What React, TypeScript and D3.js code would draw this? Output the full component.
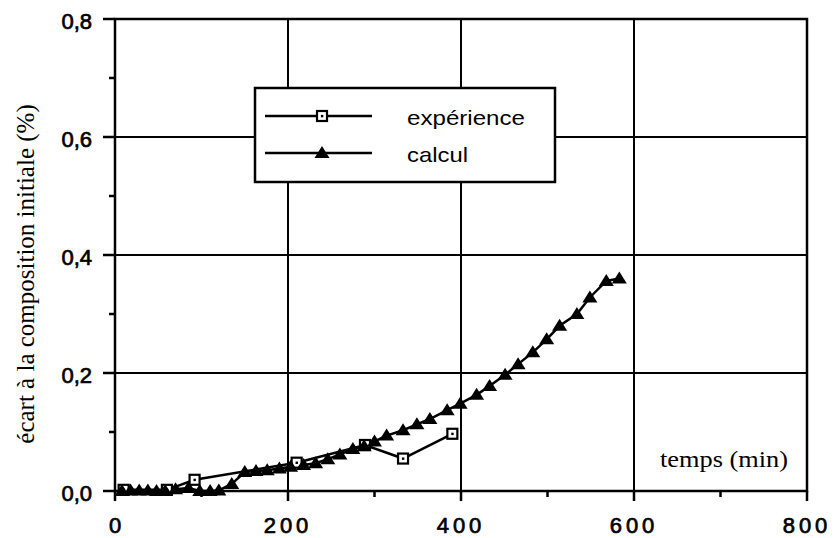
import React from 'react';
import * as d3 from 'd3';

const xTicks = [0, 200, 400, 600, 800];
const xTickLabels = ['0', '200', '400', '600', '800'];
const xMinorTicks = [100, 300, 500, 700];
const yTicks = [0, 0.2, 0.4, 0.6, 0.8];
const yTickLabels = ['0,0', '0,2', '0,4', '0,6', '0,8'];
const yMinorTicks = [0.1, 0.3, 0.5, 0.7];

const expTime = [10, 60, 92, 210, 289, 333, 390];
const expValue = [0.002, 0.002, 0.019, 0.048, 0.078, 0.055, 0.097];

const calcTime = [8, 18, 28, 38, 48, 58, 70, 85, 98, 110, 120, 135, 150, 163, 176, 190, 203, 218, 232, 246, 260, 275, 288, 300, 314, 333, 349, 364, 384, 399, 418, 433, 451, 466, 483, 499, 514, 534, 549, 568, 583];
const calcValue = [0, 0.001, 0.001, 0.001, 0, 0, 0.003, 0.005, 0, 0, 0.001, 0.012, 0.032, 0.034, 0.035, 0.038, 0.041, 0.044, 0.047, 0.054, 0.062, 0.071, 0.076, 0.084, 0.094, 0.103, 0.113, 0.122, 0.137, 0.148, 0.163, 0.178, 0.197, 0.215, 0.235, 0.257, 0.280, 0.300, 0.328, 0.356, 0.360];

const seriesNames = ['expérience', 'calcul'];
const xTitle = 'temps (min)';
const yTitle = 'écart à la composition initiale (%)';

const W = 835;
const H = 538;
const left = 115, right = 807, top = 19, bottom = 491;

const triPath = 'M0,-7L7.5,5L-7.5,5Z';

function Square({ x, y }: { x: number; y: number }) {
  return (
    <g transform={`translate(${x},${y})`}>
      <rect x={-5} y={-5} width={10} height={10} fill="#fff" stroke="#000" strokeWidth={2.2} />
      <rect x={-1.1} y={-1.1} width={2.4} height={2.4} fill="#000" />
    </g>
  );
}

export default function App() {
  const x = d3.scaleLinear().domain([0, 800]).range([left, right]);
  const y = d3.scaleLinear().domain([0, 0.8]).range([bottom, top]);

  const expData = expTime.map((t, i) => [t, expValue[i]] as [number, number]);
  const calcData = calcTime.map((t, i) => [t, calcValue[i]] as [number, number]);
  const line = d3.line<[number, number]>().x(d => x(d[0])).y(d => y(d[1]));

  const sans = 'Liberation Sans, Arial, sans-serif';
  const serif = "'Times New Roman', 'Liberation Serif', serif";

  return (
    <svg width={W} height={H} style={{ position: 'absolute', left: 0, top: 0, background: '#fff' }}>
      <rect x={0} y={0} width={W} height={H} fill="#fff" />
      {xTicks.slice(1, -1).map(t => (
        <line key={'gx' + t} x1={x(t)} x2={x(t)} y1={top} y2={bottom} stroke="#000" strokeWidth={2} />
      ))}
      {yTicks.slice(1, -1).map(t => (
        <line key={'gy' + t} x1={left} x2={right} y1={y(t)} y2={y(t)} stroke="#000" strokeWidth={2} />
      ))}
      <rect x={left} y={top} width={right - left} height={bottom - top} fill="none" stroke="#000" strokeWidth={2.5} />
      {xTicks.map(t => (
        <line key={'tx' + t} x1={x(t)} x2={x(t)} y1={bottom} y2={bottom + 10} stroke="#000" strokeWidth={2.5} />
      ))}
      {xMinorTicks.map(t => (
        <line key={'mx' + t} x1={x(t)} x2={x(t)} y1={bottom} y2={bottom + 6} stroke="#000" strokeWidth={2.5} />
      ))}
      {yTicks.map(t => (
        <line key={'ty' + t} x1={left - 12} x2={left} y1={y(t)} y2={y(t)} stroke="#000" strokeWidth={2.5} />
      ))}
      {yMinorTicks.map(t => (
        <line key={'my' + t} x1={left - 6} x2={left} y1={y(t)} y2={y(t)} stroke="#000" strokeWidth={2.5} />
      ))}
      {xTicks.map((t, i) => (
        <text key={'lx' + t} x={x(t)} y={533} textAnchor="middle" fontFamily={sans} fontSize={22}
          letterSpacing={t === 0 ? 0 : 4} stroke="#000" strokeWidth={0.7} fill="#000">
          {xTickLabels[i]}
        </text>
      ))}
      {yTicks.map((t, i) => (
        <text key={'ly' + t} x={92} y={y(t) + 10} textAnchor="end" fontFamily={sans} fontSize={22}
          stroke="#000" strokeWidth={0.7} fill="#000">
          {yTickLabels[i]}
        </text>
      ))}
      <path d={line(calcData) || ''} fill="none" stroke="#000" strokeWidth={2.5} />
      <path d={line(expData) || ''} fill="none" stroke="#000" strokeWidth={2.5} />
      {expData.map((d, i) => (
        <Square key={'e' + i} x={x(d[0])} y={y(d[1])} />
      ))}
      {calcData.map((d, i) => (
        <path key={'c' + i} d={triPath} transform={`translate(${x(d[0])},${y(d[1])})`} fill="#000" />
      ))}
      <rect x={255} y={88} width={300} height={94} fill="#fff" stroke="#000" strokeWidth={2.5} />
      <line x1={265} x2={372} y1={116} y2={116} stroke="#000" strokeWidth={2.5} />
      <Square x={322} y={116} />
      <text x={407} y={125} fontFamily={sans} fontSize={21} textLength={118} lengthAdjust="spacingAndGlyphs" fill="#000">
        {seriesNames[0]}
      </text>
      <line x1={265} x2={372} y1={153} y2={153} stroke="#000" strokeWidth={2.5} />
      <path d={triPath} transform="translate(322,153)" fill="#000" />
      <text x={407} y={162} fontFamily={sans} fontSize={21} textLength={61} lengthAdjust="spacingAndGlyphs" fill="#000">
        {seriesNames[1]}
      </text>
      <text x={660} y={467} fontFamily={serif} fontSize={23} textLength={128} lengthAdjust="spacingAndGlyphs" fill="#000">
        {xTitle}
      </text>
      <g transform="translate(34,274) rotate(-90)">
        <text x={0} y={0} textAnchor="middle" fontFamily={serif} fontSize={25} fill="#000">
          {yTitle}
        </text>
      </g>
    </svg>
  );
}
